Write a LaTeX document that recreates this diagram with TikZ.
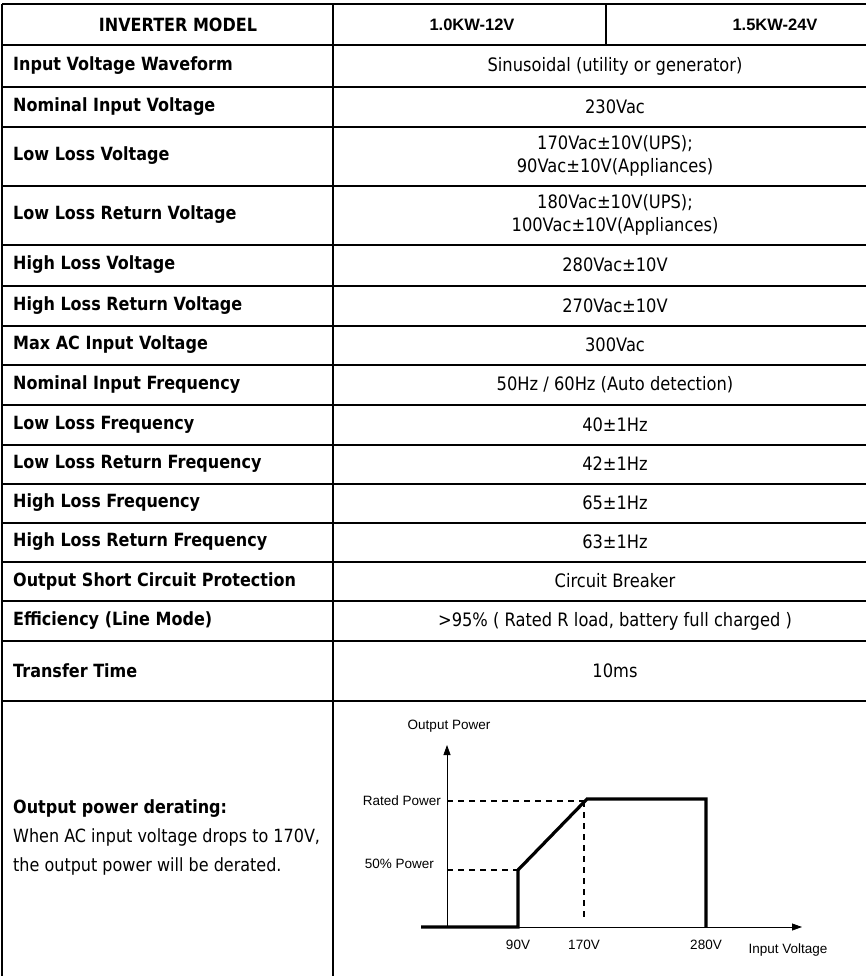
\documentclass[tikz,border=0pt]{standalone}
\usepackage{fontspec}
\setmainfont{DejaVu Sans}[FakeStretch=0.88]
\newfontfamily\arialfont{Liberation Sans}
\usetikzlibrary{arrows.meta,positioning}
\tikzstyle{grid}=[draw, line width=1.2pt]
\tikzstyle{lbl}=[anchor=west, inner sep=0pt, font=\fontsize{18.2}{21}\selectfont\bfseries]
\tikzstyle{val}=[align=center, inner sep=0pt, font=\fontsize{18.5}{23}\selectfont]
\tikzstyle{hdr}=[inner sep=0pt, font=\arialfont\fontsize{16.5}{18}\selectfont\bfseries]
\tikzstyle{plot}=[draw, line width=3.2pt]
\tikzstyle{axis}=[draw, line width=0.8pt, -{Triangle[length=10pt,width=7pt]}]
\tikzstyle{guide}=[draw, line width=1.2pt, dash pattern=on 6pt off 5pt]
\tikzstyle{tick}=[inner sep=0pt, font=\arialfont\fontsize{13.5}{15}\selectfont]

\begin{document}
\begin{tikzpicture}[x=1pt,y=-1pt]
\useasboundingbox (0,0) rectangle (866,976);

% table grid
\foreach \y in {4,45,87,127,186,245,286,326,365,405,445,484,523,562,601,641,701}
  \draw[grid] (2,\y) -- (866,\y);
\draw[grid] (2,4) -- (2,976);
\draw[grid] (333,4) -- (333,976);
\draw[grid] (606,4) -- (606,45);

% header
\node[lbl, anchor=center] (model) at (178,25) {INVERTER MODEL};
\node[hdr] (m1) at (472,25) {1.0KW-12V};
\node[hdr] (m2) at (775,25) {1.5KW-24V};

% rows
\foreach \yc/\lbl/\val [count=\n] in {
  66/Input Voltage Waveform/{Sinusoidal (utility or generator)},
  107/Nominal Input Voltage/230Vac,
  156/Low Loss Voltage/{170Vac±10V(UPS);\\90Vac±10V(Appliances)},
  215/Low Loss Return Voltage/{180Vac±10V(UPS);\\100Vac±10V(Appliances)},
  265/High Loss Voltage/280Vac±10V,
  306/High Loss Return Voltage/270Vac±10V,
  345/Max AC Input Voltage/300Vac,
  385/Nominal Input Frequency/{50Hz / 60Hz (Auto detection)},
  425/Low Loss Frequency/40±1Hz,
  464/Low Loss Return Frequency/42±1Hz,
  503/High Loss Frequency/65±1Hz,
  542/High Loss Return Frequency/63±1Hz,
  581/Output Short Circuit Protection/Circuit Breaker,
  621/Efficiency (Line Mode)/{>95\% ( Rated R load, battery full charged )},
  671/Transfer Time/10ms}
{
  \node[lbl] (lbl\n) at (13,\yc) {\lbl};
  \node[val] (val\n) at (615,\yc) {\val};
}

% derating
\node[anchor=west, align=left, inner sep=0pt, font=\fontsize{18.2}{29}\selectfont] (derate) at (13,837)
  {\textbf{Output power derating:}\\When AC input voltage drops to 170V,\\the output power will be derated.};

% graph
\coordinate (o) at (447,927);
\coordinate (ytip) at (447,745);
\coordinate (xtip) at (802,927);
\draw[axis] (o) -- (ytip);
\draw[axis] (o) -- (xtip);
\node[tick] (ylab) at (449,726) {Output Power};
\node[tick, anchor=east] (rated) at (441,801) {Rated Power};
\node[tick, anchor=east] (half) at (434,864) {50\% Power};

\coordinate (p0) at (421,927);
\coordinate (p1) at (518,927);
\coordinate (p2) at (518,870);
\coordinate (p3) at (587,799);
\coordinate (p4) at (706,799);
\coordinate (p5) at (706,927);
\draw[plot] (p0) -- (p1) -- (p2) -- (p3) -- (p4) -- (p5);

\coordinate (r0) at (447,801);
\coordinate (r1) at (584,801);
\coordinate (h0) at (447,870);
\coordinate (v1) at (584,918);
\draw[guide] (r0) -- (r1);
\draw[guide] (h0) -- (p2);
\draw[guide] (r1) -- (v1);

\node[tick] (v90) at (518,945) {90V};
\node[tick] (v170) at (584,945) {170V};
\node[tick] (v280) at (706,945) {280V};
\node[tick] (inv) at (788,950) {Input Voltage};
\end{tikzpicture}
\end{document}
